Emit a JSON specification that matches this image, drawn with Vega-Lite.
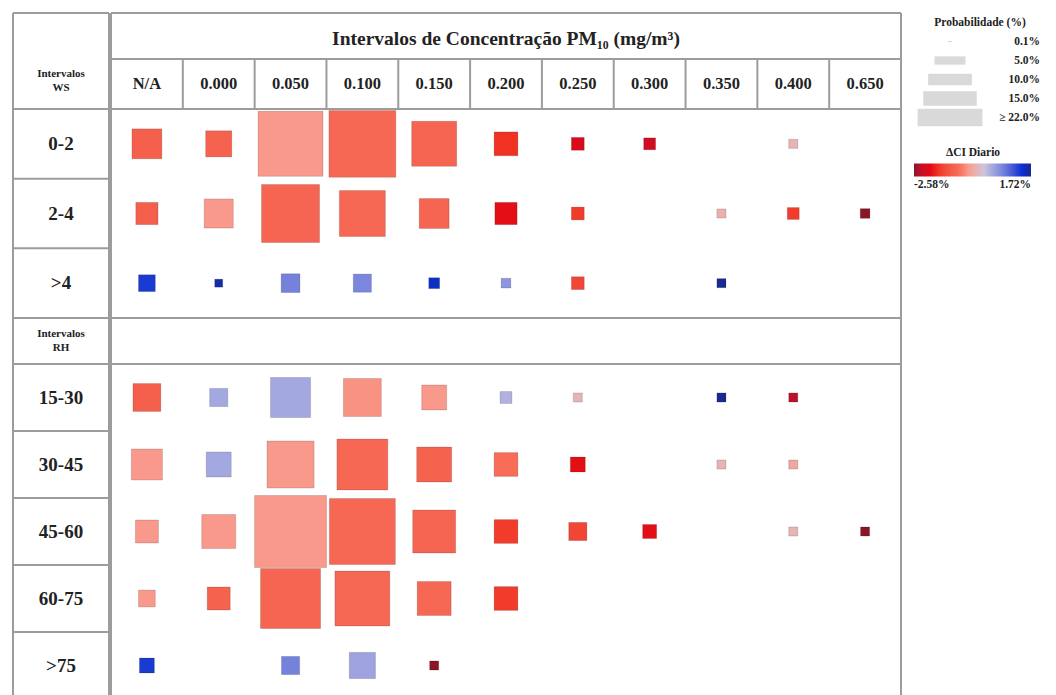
{
 "$schema": "https://vega.github.io/schema/vega-lite/v6.json",
 "background": "white",
 "padding": {"left": 12, "top": 12, "right": 0, "bottom": 0},
 "config": {
  "view": {"stroke": null},
  "font": "Liberation Serif",
  "text": {"font": "Liberation Serif", "fontWeight": "bold", "color": "#222222"},
  "rule": {"color": "#9c9c9c", "strokeWidth": 2, "clip": true},
  "legend": {"titleFont": "Liberation Serif", "labelFont": "Liberation Serif", "titleFontSize": 11.5, "labelFontSize": 11.5, "titleFontWeight": "bold", "labelFontWeight": "bold", "titleColor": "#222222", "labelColor": "#222222", "padding": 0}
 },
 "datasets": {
  "one": [{}],
  "cols": [{"c": "N/A"}, {"c": "0.000"}, {"c": "0.050"}, {"c": "0.100"}, {"c": "0.150"}, {"c": "0.200"}, {"c": "0.250"}, {"c": "0.300"}, {"c": "0.350"}, {"c": "0.400"}, {"c": "0.650"}],
  "wsrows": [{"r": "0-2"}, {"r": "2-4"}, {"r": ">4"}],
  "rhrows": [{"r": "15-30"}, {"r": "30-45"}, {"r": "45-60"}, {"r": "60-75"}, {"r": ">75"}],
  "leg": [
   {"k": "0.1", "p": 0.1, "l": "0.1%"},
   {"k": "5", "p": 5, "l": "5.0%"},
   {"k": "10", "p": 10, "l": "10.0%"},
   {"k": "15", "p": 15, "l": "15.0%"},
   {"k": "22", "p": 22, "l": "≥ 22.0%"}
  ],
  "ws": [
   {"r": "0-2", "c": "N/A", "p": 3.8, "dci": -1.15},
   {"r": "0-2", "c": "0.000", "p": 2.9, "dci": -1.1},
   {"r": "0-2", "c": "0.050", "p": 17.9, "dci": -0.6},
   {"r": "0-2", "c": "0.100", "p": 19.0, "dci": -1.0},
   {"r": "0-2", "c": "0.150", "p": 8.6, "dci": -1.05},
   {"r": "0-2", "c": "0.200", "p": 2.4, "dci": -1.7},
   {"r": "0-2", "c": "0.250", "p": 0.7, "dci": -2.1},
   {"r": "0-2", "c": "0.300", "p": 0.6, "dci": -2.2},
   {"r": "0-2", "c": "0.400", "p": 0.35, "dci": -0.3},
   {"r": "2-4", "c": "N/A", "p": 2.1, "dci": -1.15},
   {"r": "2-4", "c": "0.000", "p": 3.6, "dci": -0.6},
   {"r": "2-4", "c": "0.050", "p": 14.3, "dci": -1.05},
   {"r": "2-4", "c": "0.100", "p": 9.0, "dci": -1.0},
   {"r": "2-4", "c": "0.150", "p": 3.8, "dci": -1.05},
   {"r": "2-4", "c": "0.200", "p": 2.1, "dci": -1.95},
   {"r": "2-4", "c": "0.250", "p": 0.7, "dci": -1.6},
   {"r": "2-4", "c": "0.350", "p": 0.35, "dci": -0.35},
   {"r": "2-4", "c": "0.400", "p": 0.6, "dci": -1.6},
   {"r": "2-4", "c": "0.650", "p": 0.4, "dci": -2.58},
   {"r": ">4", "c": "N/A", "p": 1.2, "dci": 1.3},
   {"r": ">4", "c": "0.000", "p": 0.27, "dci": 1.6},
   {"r": ">4", "c": "0.050", "p": 1.5, "dci": 0.7},
   {"r": ">4", "c": "0.100", "p": 1.4, "dci": 0.65},
   {"r": ">4", "c": "0.150", "p": 0.5, "dci": 1.45},
   {"r": ">4", "c": "0.200", "p": 0.4, "dci": 0.5},
   {"r": ">4", "c": "0.250", "p": 0.7, "dci": -1.5},
   {"r": ">4", "c": "0.350", "p": 0.35, "dci": 1.72}
  ],
  "rh": [
   {"r": "15-30", "c": "N/A", "p": 3.3, "dci": -1.15},
   {"r": "15-30", "c": "0.000", "p": 1.4, "dci": 0.3},
   {"r": "15-30", "c": "0.050", "p": 6.8, "dci": 0.3},
   {"r": "15-30", "c": "0.100", "p": 6.1, "dci": -0.65},
   {"r": "15-30", "c": "0.150", "p": 2.65, "dci": -0.6},
   {"r": "15-30", "c": "0.200", "p": 0.6, "dci": 0.2},
   {"r": "15-30", "c": "0.250", "p": 0.35, "dci": -0.3},
   {"r": "15-30", "c": "0.350", "p": 0.35, "dci": 1.72},
   {"r": "15-30", "c": "0.400", "p": 0.35, "dci": -2.35},
   {"r": "30-45", "c": "N/A", "p": 4.1, "dci": -0.6},
   {"r": "30-45", "c": "0.000", "p": 2.65, "dci": 0.3},
   {"r": "30-45", "c": "0.050", "p": 9.4, "dci": -0.6},
   {"r": "30-45", "c": "0.100", "p": 11.0, "dci": -1.0},
   {"r": "30-45", "c": "0.150", "p": 5.2, "dci": -1.1},
   {"r": "30-45", "c": "0.200", "p": 2.4, "dci": -0.9},
   {"r": "30-45", "c": "0.250", "p": 0.95, "dci": -1.95},
   {"r": "30-45", "c": "0.350", "p": 0.35, "dci": -0.3},
   {"r": "30-45", "c": "0.400", "p": 0.35, "dci": -0.45},
   {"r": "45-60", "c": "N/A", "p": 2.25, "dci": -0.6},
   {"r": "45-60", "c": "0.000", "p": 4.9, "dci": -0.6},
   {"r": "45-60", "c": "0.050", "p": 22.0, "dci": -0.6},
   {"r": "45-60", "c": "0.100", "p": 18.5, "dci": -1.0},
   {"r": "45-60", "c": "0.150", "p": 7.85, "dci": -1.05},
   {"r": "45-60", "c": "0.200", "p": 2.4, "dci": -1.6},
   {"r": "45-60", "c": "0.250", "p": 1.4, "dci": -1.5},
   {"r": "45-60", "c": "0.300", "p": 0.83, "dci": -1.95},
   {"r": "45-60", "c": "0.400", "p": 0.35, "dci": -0.3},
   {"r": "45-60", "c": "0.650", "p": 0.35, "dci": -2.58},
   {"r": "60-75", "c": "N/A", "p": 1.2, "dci": -0.6},
   {"r": "60-75", "c": "0.000", "p": 2.25, "dci": -1.1},
   {"r": "60-75", "c": "0.050", "p": 15.3, "dci": -1.05},
   {"r": "60-75", "c": "0.100", "p": 12.8, "dci": -1.0},
   {"r": "60-75", "c": "0.150", "p": 4.9, "dci": -1.0},
   {"r": "60-75", "c": "0.200", "p": 2.4, "dci": -1.6},
   {"r": ">75", "c": "N/A", "p": 0.95, "dci": 1.3},
   {"r": ">75", "c": "0.050", "p": 1.4, "dci": 0.7},
   {"r": ">75", "c": "0.100", "p": 2.9, "dci": 0.35},
   {"r": ">75", "c": "0.150", "p": 0.35, "dci": -2.58}
  ]
 },
 "spacing": 0,
 "hconcat": [
  {
   "spacing": 0,
   "bounds": "flush",
   "vconcat": [
    {
     "width": 96, "height": 96,
     "layer": [
      {
       "data": {"values": [{"t": "Intervalos\nWS", "pos": "cols"}]},
       "mark": {"type": "text", "fontSize": 11, "lineBreak": "\n", "lineHeight": 14, "dy": -11},
       "encoding": {
        "y": {"field": "pos", "type": "nominal", "scale": {"type": "band", "domain": ["title", "cols"], "paddingInner": 0, "paddingOuter": 0}, "axis": null},
        "text": {"field": "t"}
       }
      },
      {"data": {"name": "one"}, "mark": "rule", "encoding": {"y": {"datum": "title", "type": "nominal", "bandPosition": 0, "scale": {"type": "band", "domain": ["title", "cols"], "paddingInner": 0, "paddingOuter": 0}, "axis": null}}},
      {"data": {"name": "one"}, "mark": "rule", "encoding": {"y": {"datum": "cols", "type": "nominal", "bandPosition": 1, "scale": {"type": "band", "domain": ["title", "cols"], "paddingInner": 0, "paddingOuter": 0}, "axis": null}}},
      {"data": {"name": "one"}, "mark": "rule", "encoding": {"x": {"datum": "lbl", "type": "nominal", "bandPosition": 0, "scale": {"type": "band", "domain": ["lbl"], "paddingInner": 0, "paddingOuter": 0}, "axis": null}}},
      {"data": {"name": "one"}, "mark": "rule", "encoding": {"x": {"datum": "lbl", "type": "nominal", "bandPosition": 1, "scale": {"type": "band", "domain": ["lbl"], "paddingInner": 0, "paddingOuter": 0}, "axis": null}}}
     ]
    },
    {
     "width": 96, "height": 209,
     "layer": [
      {
       "data": {"name": "wsrows"},
       "mark": "rule",
       "encoding": {"y": {"field": "r", "type": "nominal", "bandPosition": 0, "scale": {"type": "band", "domain": ["0-2", "2-4", ">4"], "paddingInner": 0, "paddingOuter": 0}, "axis": null}}
      },
      {
       "data": {"name": "wsrows"},
       "mark": {"type": "text", "fontSize": 19},
       "encoding": {
        "y": {"field": "r", "type": "nominal", "scale": {"type": "band", "domain": ["0-2", "2-4", ">4"], "paddingInner": 0, "paddingOuter": 0}, "axis": null},
        "text": {"field": "r"}
       }
      },
      {"data": {"name": "one"}, "mark": "rule", "encoding": {"y": {"datum": ">4", "type": "nominal", "bandPosition": 1, "scale": {"type": "band", "domain": ["0-2", "2-4", ">4"], "paddingInner": 0, "paddingOuter": 0}, "axis": null}}},
      {"data": {"name": "one"}, "mark": "rule", "encoding": {"x": {"datum": "lbl", "type": "nominal", "bandPosition": 0, "scale": {"type": "band", "domain": ["lbl"], "paddingInner": 0, "paddingOuter": 0}, "axis": null}}},
      {"data": {"name": "one"}, "mark": "rule", "encoding": {"x": {"datum": "lbl", "type": "nominal", "bandPosition": 1, "scale": {"type": "band", "domain": ["lbl"], "paddingInner": 0, "paddingOuter": 0}, "axis": null}}}
     ]
    },
    {
     "width": 96, "height": 46,
     "layer": [
      {
       "data": {"values": [{"t": "Intervalos\nRH", "k": "t"}]},
       "mark": {"type": "text", "fontSize": 11, "lineBreak": "\n", "lineHeight": 14, "dy": -7},
       "encoding": {
        "y": {"field": "k", "type": "nominal", "scale": {"type": "band", "domain": ["t"], "paddingInner": 0, "paddingOuter": 0}, "axis": null},
        "text": {"field": "t"}
       }
      },
      {"data": {"name": "one"}, "mark": "rule", "encoding": {"y": {"datum": "t", "type": "nominal", "bandPosition": 0, "scale": {"type": "band", "domain": ["t"], "paddingInner": 0, "paddingOuter": 0}, "axis": null}}},
      {"data": {"name": "one"}, "mark": "rule", "encoding": {"y": {"datum": "t", "type": "nominal", "bandPosition": 1, "scale": {"type": "band", "domain": ["t"], "paddingInner": 0, "paddingOuter": 0}, "axis": null}}},
      {"data": {"name": "one"}, "mark": "rule", "encoding": {"x": {"datum": "lbl", "type": "nominal", "bandPosition": 0, "scale": {"type": "band", "domain": ["lbl"], "paddingInner": 0, "paddingOuter": 0}, "axis": null}}},
      {"data": {"name": "one"}, "mark": "rule", "encoding": {"x": {"datum": "lbl", "type": "nominal", "bandPosition": 1, "scale": {"type": "band", "domain": ["lbl"], "paddingInner": 0, "paddingOuter": 0}, "axis": null}}}
     ]
    },
    {
     "width": 96, "height": 335,
     "layer": [
      {
       "data": {"name": "rhrows"},
       "mark": "rule",
       "encoding": {"y": {"field": "r", "type": "nominal", "bandPosition": 0, "scale": {"type": "band", "domain": ["15-30", "30-45", "45-60", "60-75", ">75"], "paddingInner": 0, "paddingOuter": 0}, "axis": null}}
      },
      {
       "data": {"name": "rhrows"},
       "mark": {"type": "text", "fontSize": 19},
       "encoding": {
        "y": {"field": "r", "type": "nominal", "scale": {"type": "band", "domain": ["15-30", "30-45", "45-60", "60-75", ">75"], "paddingInner": 0, "paddingOuter": 0}, "axis": null},
        "text": {"field": "r"}
       }
      },
      {"data": {"name": "one"}, "mark": "rule", "encoding": {"y": {"datum": ">75", "type": "nominal", "bandPosition": 1, "scale": {"type": "band", "domain": ["15-30", "30-45", "45-60", "60-75", ">75"], "paddingInner": 0, "paddingOuter": 0}, "axis": null}}},
      {"data": {"name": "one"}, "mark": "rule", "encoding": {"x": {"datum": "lbl", "type": "nominal", "bandPosition": 0, "scale": {"type": "band", "domain": ["lbl"], "paddingInner": 0, "paddingOuter": 0}, "axis": null}}},
      {"data": {"name": "one"}, "mark": "rule", "encoding": {"x": {"datum": "lbl", "type": "nominal", "bandPosition": 1, "scale": {"type": "band", "domain": ["lbl"], "paddingInner": 0, "paddingOuter": 0}, "axis": null}}}
     ]
    }
   ]
  },
  {
   "spacing": 0,
   "bounds": "flush",
   "vconcat": [
    {
     "width": 790, "height": 46,
     "layer": [
      {
       "data": {"values": [{"t": "Intervalos de Concentração PM₁₀ (mg/m³)", "k": "t"}]},
       "mark": {"type": "text", "fontSize": 19.5, "dy": 3},
       "encoding": {
        "y": {"field": "k", "type": "nominal", "scale": {"type": "band", "domain": ["t"], "paddingInner": 0, "paddingOuter": 0}, "axis": null},
        "text": {"field": "t"}
       }
      },
      {"data": {"name": "one"}, "mark": "rule", "encoding": {"y": {"datum": "t", "type": "nominal", "bandPosition": 0, "scale": {"type": "band", "domain": ["t"], "paddingInner": 0, "paddingOuter": 0}, "axis": null}}},
      {"data": {"name": "one"}, "mark": "rule", "encoding": {"y": {"datum": "t", "type": "nominal", "bandPosition": 1, "scale": {"type": "band", "domain": ["t"], "paddingInner": 0, "paddingOuter": 0}, "axis": null}}},
      {"data": {"name": "one"}, "mark": "rule", "encoding": {"x": {"datum": "N/A", "type": "nominal", "bandPosition": 0, "scale": {"type": "band", "domain": ["N/A", "0.000", "0.050", "0.100", "0.150", "0.200", "0.250", "0.300", "0.350", "0.400", "0.650"], "paddingInner": 0, "paddingOuter": 0}, "axis": null}}},
      {"data": {"name": "one"}, "mark": "rule", "encoding": {"x": {"datum": "0.650", "type": "nominal", "bandPosition": 1, "scale": {"type": "band", "domain": ["N/A", "0.000", "0.050", "0.100", "0.150", "0.200", "0.250", "0.300", "0.350", "0.400", "0.650"], "paddingInner": 0, "paddingOuter": 0}, "axis": null}}}
     ]
    },
    {
     "width": 790, "height": 50,
     "layer": [
      {
       "data": {"name": "cols"},
       "mark": "rule",
       "encoding": {"x": {"field": "c", "type": "nominal", "bandPosition": 0, "scale": {"type": "band", "domain": ["N/A", "0.000", "0.050", "0.100", "0.150", "0.200", "0.250", "0.300", "0.350", "0.400", "0.650"], "paddingInner": 0, "paddingOuter": 0}, "axis": null}}
      },
      {
       "data": {"name": "cols"},
       "mark": {"type": "text", "fontSize": 16.5},
       "encoding": {
        "x": {"field": "c", "type": "nominal", "scale": {"type": "band", "domain": ["N/A", "0.000", "0.050", "0.100", "0.150", "0.200", "0.250", "0.300", "0.350", "0.400", "0.650"], "paddingInner": 0, "paddingOuter": 0}, "axis": null},
        "text": {"field": "c"}
       }
      },
      {"data": {"name": "one"}, "mark": "rule", "encoding": {"x": {"datum": "0.650", "type": "nominal", "bandPosition": 1, "scale": {"type": "band", "domain": ["N/A", "0.000", "0.050", "0.100", "0.150", "0.200", "0.250", "0.300", "0.350", "0.400", "0.650"], "paddingInner": 0, "paddingOuter": 0}, "axis": null}}},
      {"data": {"name": "one"}, "mark": "rule", "encoding": {"y": {"datum": "h", "type": "nominal", "bandPosition": 0, "scale": {"type": "band", "domain": ["h"], "paddingInner": 0, "paddingOuter": 0}, "axis": null}}},
      {"data": {"name": "one"}, "mark": "rule", "encoding": {"y": {"datum": "h", "type": "nominal", "bandPosition": 1, "scale": {"type": "band", "domain": ["h"], "paddingInner": 0, "paddingOuter": 0}, "axis": null}}}
     ]
    },
    {
     "width": 790, "height": 209,
     "layer": [
      {
       "data": {"name": "ws"},
       "mark": {"type": "point", "shape": "square", "filled": true, "opacity": 1, "stroke": "#000000", "strokeOpacity": 0.14, "strokeWidth": 1},
       "encoding": {
        "x": {"field": "c", "type": "nominal", "scale": {"type": "band", "domain": ["N/A", "0.000", "0.050", "0.100", "0.150", "0.200", "0.250", "0.300", "0.350", "0.400", "0.650"], "paddingInner": 0, "paddingOuter": 0}, "axis": null},
        "y": {"field": "r", "type": "nominal", "scale": {"type": "band", "domain": ["0-2", "2-4", ">4"], "paddingInner": 0, "paddingOuter": 0}, "axis": null},
        "size": {"field": "p", "type": "quantitative", "scale": {"domain": [0, 22], "range": [0, 5184]}, "legend": null},
        "color": {"field": "dci", "type": "quantitative", "title": "ΔCI Diario",
         "scale": {"domain": [-2.58, -2.3, -2.0, -1.7, -1.4, -1.1, -0.9, -0.6, -0.3, 0, 0.3, 0.7, 1.1, 1.4, 1.72], "range": ["#8b1526", "#c8102a", "#e00812", "#f03222", "#f2503e", "#f5634f", "#f86c58", "#f8998b", "#e6b4b4", "#ccc4dc", "#a4a8e0", "#7482dc", "#3a50d4", "#0a30d0", "#1a2a90"], "interpolate": "rgb"},
         "legend": {"orient": "none", "legendX": 901, "legendY": 134, "direction": "horizontal", "gradientLength": 117, "gradientThickness": 13, "gradientStrokeWidth": 0, "values": [-2.58, 1.72], "labelExpr": "replace(format(datum.value, '.2f'), '−', '-') + '%'", "titleAnchor": "middle"}}
       }
      },
      {"data": {"name": "one"}, "mark": "rule", "encoding": {"y": {"datum": "0-2", "type": "nominal", "bandPosition": 0, "scale": {"type": "band", "domain": ["0-2", "2-4", ">4"], "paddingInner": 0, "paddingOuter": 0}, "axis": null}}},
      {"data": {"name": "one"}, "mark": "rule", "encoding": {"y": {"datum": ">4", "type": "nominal", "bandPosition": 1, "scale": {"type": "band", "domain": ["0-2", "2-4", ">4"], "paddingInner": 0, "paddingOuter": 0}, "axis": null}}},
      {"data": {"name": "one"}, "mark": "rule", "encoding": {"x": {"datum": "N/A", "type": "nominal", "bandPosition": 0, "scale": {"type": "band", "domain": ["N/A", "0.000", "0.050", "0.100", "0.150", "0.200", "0.250", "0.300", "0.350", "0.400", "0.650"], "paddingInner": 0, "paddingOuter": 0}, "axis": null}}},
      {"data": {"name": "one"}, "mark": "rule", "encoding": {"x": {"datum": "0.650", "type": "nominal", "bandPosition": 1, "scale": {"type": "band", "domain": ["N/A", "0.000", "0.050", "0.100", "0.150", "0.200", "0.250", "0.300", "0.350", "0.400", "0.650"], "paddingInner": 0, "paddingOuter": 0}, "axis": null}}}
     ]
    },
    {
     "width": 790, "height": 46,
     "layer": [
      {"data": {"name": "one"}, "mark": "rule", "encoding": {"y": {"datum": "t", "type": "nominal", "bandPosition": 0, "scale": {"type": "band", "domain": ["t"], "paddingInner": 0, "paddingOuter": 0}, "axis": null}}},
      {"data": {"name": "one"}, "mark": "rule", "encoding": {"y": {"datum": "t", "type": "nominal", "bandPosition": 1, "scale": {"type": "band", "domain": ["t"], "paddingInner": 0, "paddingOuter": 0}, "axis": null}}},
      {"data": {"name": "one"}, "mark": "rule", "encoding": {"x": {"datum": "N/A", "type": "nominal", "bandPosition": 0, "scale": {"type": "band", "domain": ["N/A", "0.000", "0.050", "0.100", "0.150", "0.200", "0.250", "0.300", "0.350", "0.400", "0.650"], "paddingInner": 0, "paddingOuter": 0}, "axis": null}}},
      {"data": {"name": "one"}, "mark": "rule", "encoding": {"x": {"datum": "0.650", "type": "nominal", "bandPosition": 1, "scale": {"type": "band", "domain": ["N/A", "0.000", "0.050", "0.100", "0.150", "0.200", "0.250", "0.300", "0.350", "0.400", "0.650"], "paddingInner": 0, "paddingOuter": 0}, "axis": null}}}
     ]
    },
    {
     "width": 790, "height": 335,
     "layer": [
      {
       "data": {"name": "rh"},
       "mark": {"type": "point", "shape": "square", "filled": true, "opacity": 1, "stroke": "#000000", "strokeOpacity": 0.14, "strokeWidth": 1},
       "encoding": {
        "x": {"field": "c", "type": "nominal", "scale": {"type": "band", "domain": ["N/A", "0.000", "0.050", "0.100", "0.150", "0.200", "0.250", "0.300", "0.350", "0.400", "0.650"], "paddingInner": 0, "paddingOuter": 0}, "axis": null},
        "y": {"field": "r", "type": "nominal", "scale": {"type": "band", "domain": ["15-30", "30-45", "45-60", "60-75", ">75"], "paddingInner": 0, "paddingOuter": 0}, "axis": null},
        "size": {"field": "p", "type": "quantitative", "scale": {"domain": [0, 22], "range": [0, 5184]}, "legend": null},
        "color": {"field": "dci", "type": "quantitative", "title": "ΔCI Diario",
         "scale": {"domain": [-2.58, -2.3, -2.0, -1.7, -1.4, -1.1, -0.9, -0.6, -0.3, 0, 0.3, 0.7, 1.1, 1.4, 1.72], "range": ["#8b1526", "#c8102a", "#e00812", "#f03222", "#f2503e", "#f5634f", "#f86c58", "#f8998b", "#e6b4b4", "#ccc4dc", "#a4a8e0", "#7482dc", "#3a50d4", "#0a30d0", "#1a2a90"], "interpolate": "rgb"},
         "legend": {"orient": "none", "legendX": 901, "legendY": 134, "direction": "horizontal", "gradientLength": 117, "gradientThickness": 13, "gradientStrokeWidth": 0, "values": [-2.58, 1.72], "labelExpr": "replace(format(datum.value, '.2f'), '−', '-') + '%'", "titleAnchor": "middle"}}
       }
      },
      {"data": {"name": "one"}, "mark": "rule", "encoding": {"y": {"datum": "15-30", "type": "nominal", "bandPosition": 0, "scale": {"type": "band", "domain": ["15-30", "30-45", "45-60", "60-75", ">75"], "paddingInner": 0, "paddingOuter": 0}, "axis": null}}},
      {"data": {"name": "one"}, "mark": "rule", "encoding": {"y": {"datum": ">75", "type": "nominal", "bandPosition": 1, "scale": {"type": "band", "domain": ["15-30", "30-45", "45-60", "60-75", ">75"], "paddingInner": 0, "paddingOuter": 0}, "axis": null}}},
      {"data": {"name": "one"}, "mark": "rule", "encoding": {"x": {"datum": "N/A", "type": "nominal", "bandPosition": 0, "scale": {"type": "band", "domain": ["N/A", "0.000", "0.050", "0.100", "0.150", "0.200", "0.250", "0.300", "0.350", "0.400", "0.650"], "paddingInner": 0, "paddingOuter": 0}, "axis": null}}},
      {"data": {"name": "one"}, "mark": "rule", "encoding": {"x": {"datum": "0.650", "type": "nominal", "bandPosition": 1, "scale": {"type": "band", "domain": ["N/A", "0.000", "0.050", "0.100", "0.150", "0.200", "0.250", "0.300", "0.350", "0.400", "0.650"], "paddingInner": 0, "paddingOuter": 0}, "axis": null}}}
     ]
    }
   ]
  },
  {
   "width": 156, "height": 114,
   "layer": [
    {
     "data": {"values": [{"k": "title", "t": "Probabilidade (%)"}]},
     "mark": {"type": "text", "fontSize": 11.5},
     "encoding": {
      "y": {"field": "k", "type": "nominal", "scale": {"type": "band", "domain": ["title", "0.1", "5", "10", "15", "22"], "paddingInner": 0, "paddingOuter": 0}, "axis": null},
      "text": {"field": "t"}
     }
    },
    {
     "data": {"name": "leg"},
     "mark": {"type": "point", "shape": "M-0.9,-0.24H0.9V0.24H-0.9Z", "filled": true, "color": "#d9d9d9", "opacity": 1, "strokeWidth": 0},
     "encoding": {
      "y": {"field": "k", "type": "nominal", "scale": {"type": "band", "domain": ["title", "0.1", "5", "10", "15", "22"], "paddingInner": 0, "paddingOuter": 0}, "axis": null},
      "x": {"datum": "sym", "type": "nominal", "scale": {"type": "band", "domain": ["sym", "lab"], "paddingInner": 0, "paddingOuter": 0.3}, "axis": null},
      "size": {"field": "p", "type": "quantitative", "scale": {"domain": [0, 22], "range": [0, 5184]}, "legend": null}
     }
    },
    {
     "data": {"name": "leg"},
     "mark": {"type": "text", "align": "right", "fontSize": 11.5},
     "encoding": {
      "y": {"field": "k", "type": "nominal", "scale": {"type": "band", "domain": ["title", "0.1", "5", "10", "15", "22"], "paddingInner": 0, "paddingOuter": 0}, "axis": null},
      "x": {"datum": "lab", "type": "nominal", "bandPosition": 1, "scale": {"type": "band", "domain": ["sym", "lab"], "paddingInner": 0, "paddingOuter": 0.3}, "axis": null},
      "text": {"field": "l"}
     }
    }
   ]
  }
 ]
}
